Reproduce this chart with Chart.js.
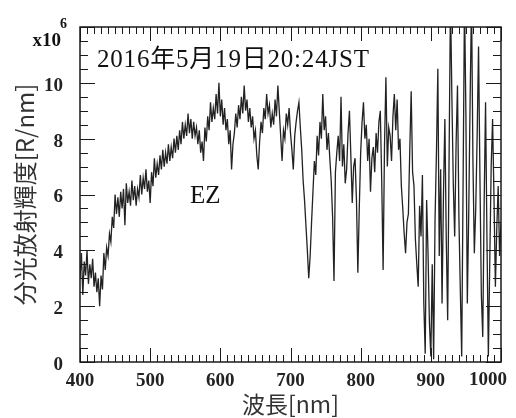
<!DOCTYPE html>
<html>
<head>
<meta charset="utf-8">
<script src="https://cdn.jsdelivr.net/npm/chart.js@4/dist/chart.umd.min.js"></script>
<style>
  html, body { margin: 0; padding: 0; background: #fff; }
  #wrap { width: 516px; height: 418px; }
</style>
</head>
<body>
<div id="wrap"><canvas id="spec" width="516" height="418"></canvas></div>
<script>
// spectral radiance (x10^6 R/nm), sampled every 2 nm, one array per 100 nm band
const START_NM = 400;
const STEP_NM = 2;
const rad400 = [3.0, 3.9, 2.4, 3.6, 3.1, 4.0, 2.8, 3.5, 3.0, 3.7, 2.7, 3.2, 2.5, 3.0, 2.0, 3.1, 2.6, 3.9, 3.3, 4.1,
                3.8, 4.6, 4.3, 5.2, 4.8, 6.0, 5.3, 5.9, 5.2, 6.1, 5.5, 6.2, 4.9, 6.4, 5.7, 6.1, 5.6, 6.5, 5.8, 6.3,
                5.6, 6.2, 5.9, 6.7, 6.0, 6.6, 6.2, 6.9, 6.1, 6.5];
const rad500 = [5.7, 6.8, 6.3, 7.3, 6.6, 7.1, 6.7, 7.4, 6.9, 7.6, 7.0, 7.5, 7.1, 7.8, 7.2, 7.7, 7.3, 8.0, 7.5, 8.1,
                7.6, 8.3, 7.8, 8.6, 8.0, 8.5, 8.1, 8.9, 8.2, 8.7, 8.0, 8.6, 8.1, 8.4, 7.8, 8.3, 7.5, 7.9, 7.2, 8.4,
                7.9, 8.8, 8.3, 9.3, 8.6, 9.1, 8.7, 9.6, 8.9, 10.0];
const rad600 = [8.8, 9.4, 8.5, 9.1, 8.3, 8.7, 7.8, 8.3, 6.9, 7.8, 8.2, 8.9, 8.4, 9.2, 8.7, 9.5, 8.9, 9.9, 9.0, 9.4,
                8.6, 9.1, 8.4, 8.8, 8.0, 8.3, 7.4, 6.9, 7.9, 8.6, 8.2, 9.1, 8.7, 9.6, 8.9, 9.2, 8.4, 8.9, 8.5, 9.4,
                8.8, 9.9, 9.0, 8.1, 7.2, 8.3, 8.0, 8.9, 8.5, 9.1];
const rad700 = [8.2, 7.6, 6.9, 8.1, 8.6, 9.0, 9.3, 8.4, 7.6, 6.5, 5.8, 4.9, 4.0, 3.0, 3.8, 5.0, 6.1, 7.2, 6.7, 8.1,
                7.4, 8.6, 8.0, 9.6, 8.3, 8.8, 7.6, 8.2, 7.3, 6.5, 5.2, 2.9, 6.8, 7.5, 8.1, 7.2, 9.5, 7.0, 7.8, 6.4,
                6.9, 8.2, 9.0, 7.4, 5.7, 7.0, 7.3, 5.8, 3.2, 5.5];
const rad800 = [7.5, 8.6, 9.3, 8.0, 8.5, 7.2, 8.0, 6.1, 7.3, 7.7, 6.8, 8.2, 7.5, 8.6, 9.0, 6.5, 3.3, 7.8, 10.2, 7.0,
                8.4, 8.1, 7.2, 8.8, 9.6, 8.3, 9.4, 7.6, 8.0, 6.3, 5.5, 4.6, 3.9, 5.0, 5.3, 7.6, 9.7, 6.8, 6.3, 4.4,
                3.5, 2.7, 5.6, 4.5, 6.7, 2.1, 0.3, 5.8, 3.9, 1.4];
const rad900 = [0.2, 3.5, 0.1, 5.1, 7.5, 10.5, 3.8, 6.9, 2.1, 6.0, 8.7, 4.4, 1.5, 7.3, 13.0, 9.5, 6.4, 4.5, 7.8, 9.9,
                5.2, 2.6, 0.2, 6.5, 13.0, 8.8, 2.1, 5.3, 9.4, 13.0, 7.2, 3.9, 5.5, 8.1, 11.3, 6.6, 2.4, 0.9, 5.7, 9.3,
                4.4, 0.2, 3.6, 7.0, 8.7, 5.9, 2.7, 4.8, 6.3, 3.8, 5.0];

const radiance = [...rad400, ...rad500, ...rad600, ...rad700, ...rad800, ...rad900];
const wavelength = radiance.map((_, i) => START_NM + i * STEP_NM);

const X_MIN = 400, X_MAX = 1000, X_MAJOR = 100, X_MINOR = 10;
const Y_MIN = 0, Y_MAX = 12, Y_MAJOR = 2, Y_MINOR = 0.5;

const titleText = '2016年5月19日20:24JST';
const regionLabel = 'EZ';
const yTitle = '分光放射輝度[R/nm]';
const xTitle = '波長[nm]';

const serif = "'Liberation Serif', 'Noto Sans CJK JP', serif";
const cjk = "'Noto Sans CJK JP', 'Liberation Serif', sans-serif";
const tickFont = { family: serif, size: 19, weight: 'bold' };

const frameTicks = {
  id: 'frameTicks',
  afterDatasetsDraw(chart) {
    const {ctx, chartArea: a, scales: {x, y}} = chart;
    ctx.save();
    ctx.strokeStyle = '#1a1a1a';
    ctx.lineWidth = 1;
    ctx.beginPath();
    for (let v = X_MIN; v <= X_MAX; v += X_MINOR) {
      const px = Math.round(x.getPixelForValue(v)) + 0.5;
      const len = v % X_MAJOR === 0 ? 14 : 7;
      ctx.moveTo(px, a.bottom); ctx.lineTo(px, a.bottom - len);
      ctx.moveTo(px, a.top); ctx.lineTo(px, a.top + len);
    }
    for (let v = Y_MIN; v <= Y_MAX; v += Y_MINOR) {
      const py = Math.round(y.getPixelForValue(v)) + 0.5;
      const len = v % Y_MAJOR === 0 ? 15 : 8;
      ctx.moveTo(a.left, py); ctx.lineTo(a.left + len, py);
      ctx.moveTo(a.right, py); ctx.lineTo(a.right - len, py);
    }
    ctx.stroke();
    ctx.lineWidth = 1.5;
    ctx.strokeRect(a.left, a.top, a.right - a.left, a.bottom - a.top);

    ctx.fillStyle = '#111';
    ctx.textBaseline = 'middle';
    ctx.textAlign = 'left';
    ctx.font = '25px ' + serif;
    ctx.letterSpacing = '0.8px';
    ctx.fillText(titleText, a.left + 17, a.top + 33);
    ctx.letterSpacing = '0px';
    ctx.fillText(regionLabel, a.left + 110, a.top + 169);

    // last x label is pushed inside the page like in the original
    ctx.fillStyle = '#222';
    ctx.textAlign = 'center';
    ctx.font = 'bold 19px ' + serif;
    ctx.fillText(String(X_MAX), x.getPixelForValue(X_MAX) - 13, a.bottom + 18);

    ctx.fillStyle = '#111';
    ctx.textBaseline = 'alphabetic';
    ctx.textAlign = 'right';
    ctx.fillText('x10', a.left - 19, a.top + 19);
    ctx.textAlign = 'left';
    ctx.font = 'bold 14px ' + serif;
    ctx.fillText('6', a.left - 20, a.top + 1);
    ctx.restore();
  }
};

new Chart(document.getElementById('spec'), {
  type: 'line',
  data: {
    datasets: [{
      data: wavelength.map((w, i) => ({x: w, y: radiance[i]})),
      borderColor: 'rgba(10,10,10,0.9)',
      borderWidth: 1.3,
      pointRadius: 0,
      tension: 0,
      fill: false
    }]
  },
  options: {
    responsive: false,
    animation: false,
    layout: { padding: { top: 27, right: 15, left: 0, bottom: 0 } },
    plugins: { legend: { display: false }, tooltip: { enabled: false } },
    scales: {
      x: {
        type: 'linear',
        min: X_MIN, max: X_MAX,
        grid: { display: false, drawTicks: false },
        border: { display: false },
        ticks: {
          stepSize: X_MAJOR, padding: 8, maxRotation: 0,
          color: '#222', font: tickFont,
          callback: v => (v === X_MAX ? '' : String(v))
        },
        title: {
          display: true, text: xTitle, color: '#333',
          font: { family: cjk, size: 23 }, padding: { top: 0, bottom: 0 }
        },
        afterFit(s) { s.height = 56; s.paddingLeft = 0; s.paddingRight = 0; }
      },
      y: {
        min: Y_MIN, max: Y_MAX,
        grid: { display: false, drawTicks: false },
        border: { display: false },
        ticks: {
          stepSize: Y_MAJOR, padding: 17, labelOffset: 3,
          color: '#222', font: tickFont,
          callback: v => (v === Y_MAX ? '' : v)
        },
        title: {
          display: true, text: yTitle, color: '#333',
          font: { family: cjk, size: 24 }, padding: { top: 10, bottom: 0 }
        },
        afterFit(s) { s.width = 80; s.paddingTop = 0; s.paddingBottom = 0; }
      }
    }
  },
  plugins: [frameTicks]
});
</script>
</body>
</html>
